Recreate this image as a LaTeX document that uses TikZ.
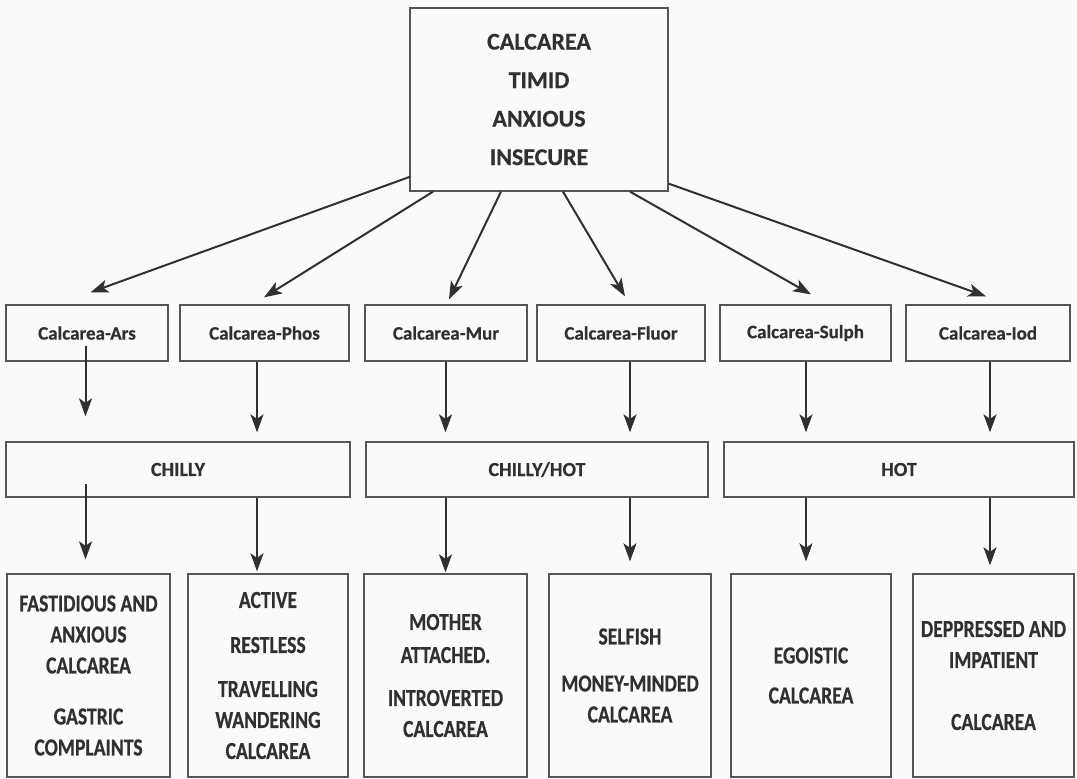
\documentclass[tikz,border=0pt]{standalone}
\usepackage{fontspec}
\setmainfont{Carlito}[BoldFeatures={FakeBold=0.5}]
\newfontfamily\narrowfont{Carlito}[FakeStretch=0.8, BoldFeatures={FakeBold=0.5}]
\usetikzlibrary{arrows.meta,calc}
\definecolor{ink}{HTML}{303030}
\definecolor{frame}{HTML}{555555}
\definecolor{paper}{HTML}{FAFAFA}
\tikzset{
  box/.style={draw=frame, line width=1.3pt, inner sep=0pt, text=ink, align=center},
  headbox/.style={box, font=\fontsize{24}{38.5}\selectfont\bfseries},
  saltbox/.style={box, minimum height=56pt, font=\fontsize{19}{22}\selectfont\bfseries},
  tempbox/.style={box, minimum height=55pt, font=\fontsize{20}{22}\selectfont\bfseries},
  typebox/.style={box, minimum height=203pt, font=\narrowfont\fontsize{24.5}{31}\selectfont\bfseries},
  arr/.style={draw=ink, line width=2pt, -{Stealth[length=18pt,width=13pt,inset=4.5pt]}}
}
\begin{document}
\begin{tikzpicture}[x=1pt,y=-1pt]
\useasboundingbox (0,0) rectangle (1077,779);
\fill[paper] (0,0) rectangle (1077,779);

% head of the tree
\node[headbox, minimum width=258pt, minimum height=183pt] (top) at (539,99.5)
  {CALCAREA\\TIMID\\ANXIOUS\\INSECURE};

% the six salts
\node[saltbox, minimum width=162pt] (ars)   at (87,333)    {Calcarea-Ars};
\node[saltbox, minimum width=169pt] (phos)  at (264.5,333) {Calcarea-Phos};
\node[saltbox, minimum width=162pt] (mur)   at (446,333)   {Calcarea-Mur};
\node[saltbox, minimum width=168pt] (fluor) at (621,333)   {Calcarea-Fluor};
\node[saltbox, minimum width=171pt] (sulph) at (805.5,333) {Calcarea-Sulph};
\node[saltbox, minimum width=164pt] (iod)   at (988,333)   {Calcarea-Iod};

% thermal groups
\node[tempbox, minimum width=344pt] (chilly) at (178,469.5) {CHILLY};
\node[tempbox, minimum width=342pt] (chot)   at (537,469.5) {CHILLY/HOT};
\node[tempbox, minimum width=350pt] (hot)    at (899,469.5) {HOT};

% personality types
\node[typebox, minimum width=163pt] (ta) at (88.5,675.5)
  {FASTIDIOUS AND\\ANXIOUS\\CALCAREA\\[20pt]GASTRIC\\COMPLAINTS};
\node[typebox, minimum width=160pt] (tb) at (268,675.5)
  {ACTIVE\\[14pt]RESTLESS\\[13pt]TRAVELLING\\WANDERING\\CALCAREA};
\node[typebox, minimum width=163pt] (tc) at (445.5,675.5)
  {MOTHER\\[2pt]ATTACHED.\\[12pt]INTROVERTED\\CALCAREA};
\node[typebox, minimum width=162pt] (td) at (630,675.5)
  {SELFISH\\[16pt]MONEY-MINDED\\CALCAREA};
\node[typebox, minimum width=160pt] (te) at (811,675.5)
  {EGOISTIC\\[9pt]CALCAREA};
\node[typebox, minimum width=161pt] (tf) at (993.5,675.5)
  {DEPPRESSED AND\\IMPATIENT\\[31pt]CALCAREA};

% fan-out from the head
\draw[arr] ($(top.south west)+(1,-15)$) -- ($(ars.north)+(3.5,-12)$);
\draw[arr] ($(top.south)+(-106,0)$) -- ($(phos.north)+(-0.5,-7)$);
\draw[arr] ($(top.south)+(-38,0)$) -- ($(mur.north)+(3,-5)$);
\draw[arr] ($(top.south)+(24,0)$) -- ($(fluor.north)+(4,-8)$);
\draw[arr] ($(top.south)+(91,0)$) -- ($(sulph.north)+(5.5,-10)$);
\draw[arr] ($(top.south east)+(0,-8)$) -- ($(iod.north)+(-2,-8)$);

% salts to thermal groups
\draw[arr] ($(ars.south)+(-1.5,-16)$) -- ($(chilly.north)+(-92.5,-25)$);
\draw[arr] ($(phos.south)+(-7.5,0)$) -- ($(chilly.north)+(79,-9)$);
\draw[arr] ($(mur.south)+(-0.5,0)$) -- ($(chot.north)+(-91.5,-9)$);
\draw[arr] ($(fluor.south)+(9,0)$) -- ($(chot.north)+(93,-9)$);
\draw[arr] ($(sulph.south)+(0.5,0)$) -- ($(hot.north)+(-93,-9)$);
\draw[arr] ($(iod.south)+(2,0)$) -- ($(hot.north)+(91,-9)$);

% thermal groups to types
\draw[arr] ($(chilly.south)+(-92.5,-14)$) -- ($(ta.north)+(-3,-14)$);
\draw[arr] ($(chilly.south)+(79,0)$) -- ($(tb.north)+(-11,-2)$);
\draw[arr] ($(chot.south)+(-91.5,0)$) -- ($(tc.north)+(0,-1)$);
\draw[arr] ($(chot.south)+(93,0)$) -- ($(td.north)+(0,-12)$);
\draw[arr] ($(hot.south)+(-93,0)$) -- ($(te.north)+(-5,-12)$);
\draw[arr] ($(hot.south)+(91,0)$) -- ($(tf.north)+(-3.5,-8)$);
\end{tikzpicture}
\end{document}
